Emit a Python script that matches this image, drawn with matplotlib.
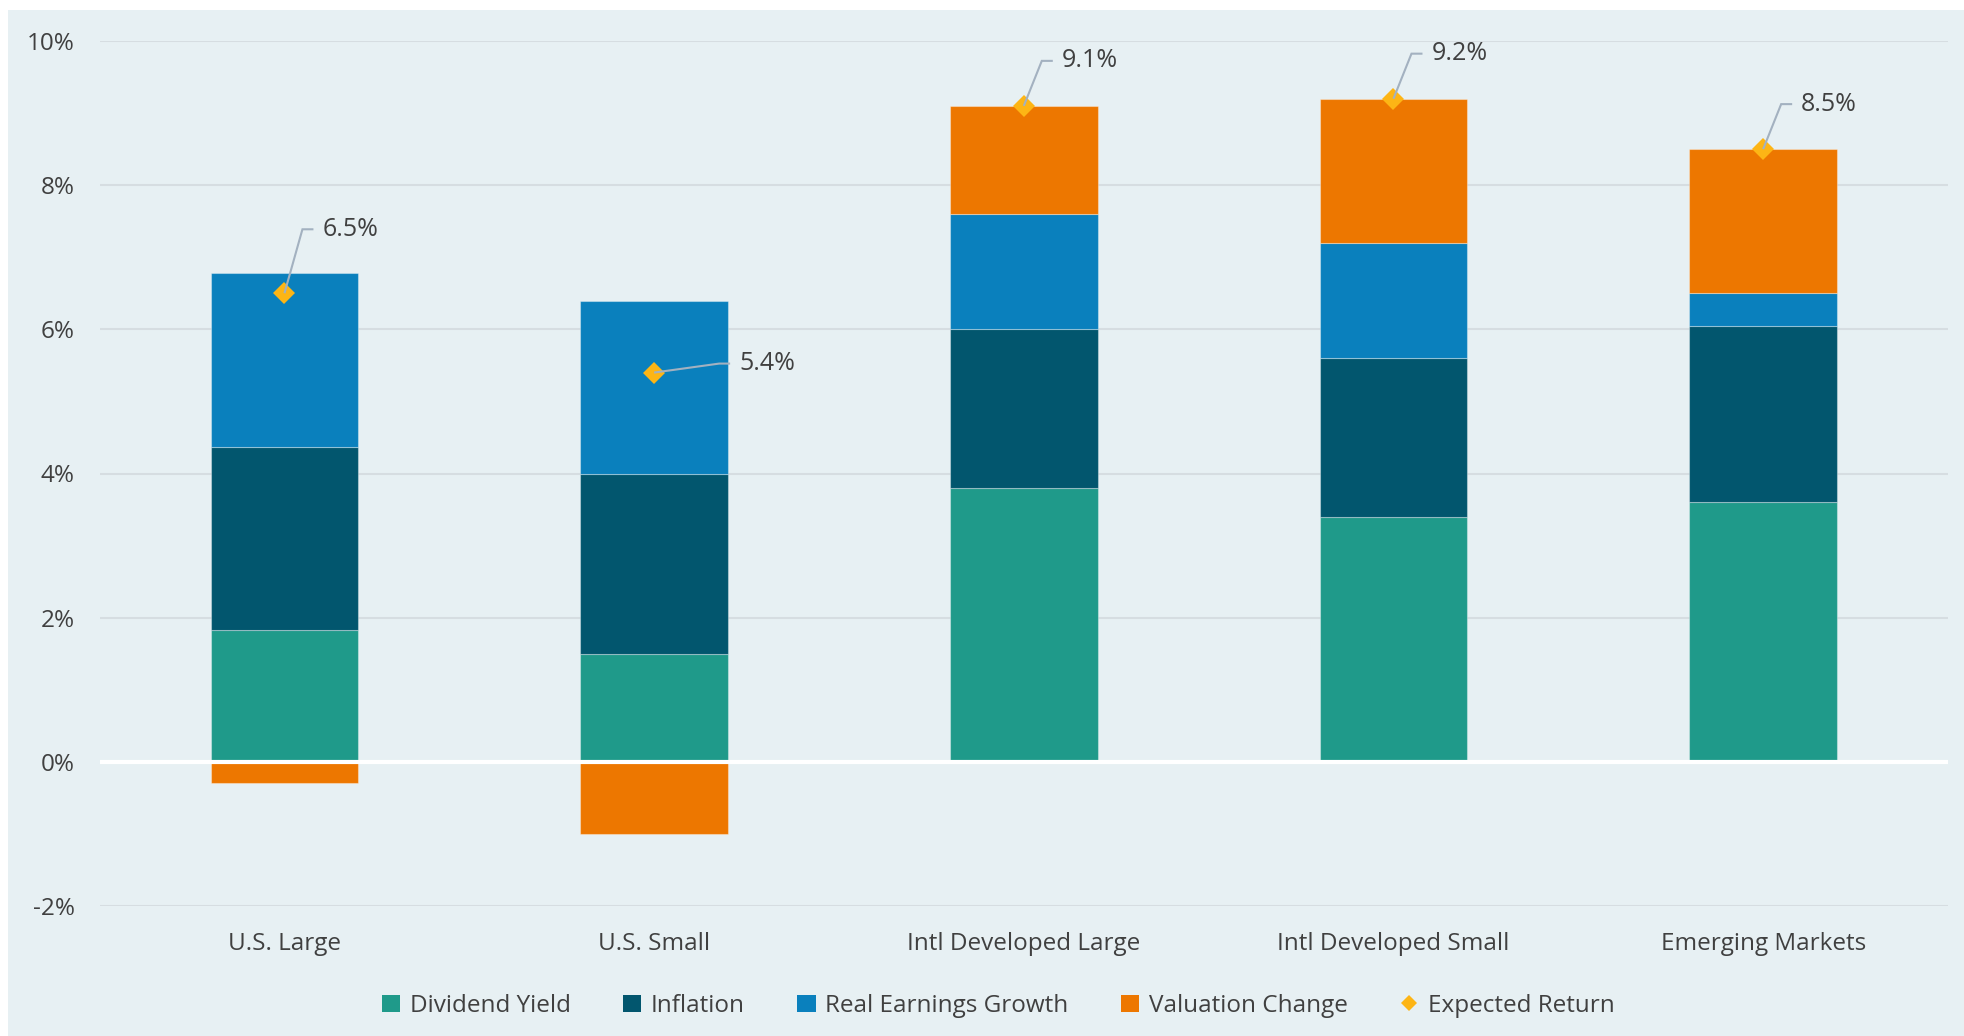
import matplotlib
matplotlib.use("Agg")
import matplotlib.pyplot as plt
from matplotlib.lines import Line2D
from matplotlib.patches import Patch
import numpy as np

plt.rcParams['font.family'] = ['Open Sans', 'DejaVu Sans']

categories = ["U.S. Large", "U.S. Small", "Intl Developed Large", "Intl Developed Small", "Emerging Markets"]
dividend_yield = [1.83, 1.50, 3.80, 3.40, 3.60]
inflation = [2.54, 2.50, 2.20, 2.20, 2.45]
real_earnings_growth = [2.41, 2.40, 1.60, 1.60, 0.45]
valuation_change = [-0.30, -1.00, 1.50, 2.00, 2.00]
expected_return = [6.5, 5.4, 9.1, 9.2, 8.5]
er_labels = ["6.5%", "5.4%", "9.1%", "9.2%", "8.5%"]
yticks = [-2, 0, 2, 4, 6, 8, 10]
ytick_labels = ["-2%", "0%", "2%", "4%", "6%", "8%", "10%"]
# label offsets (pixels): (text dx, text dy)
label_offsets = [(38, 64), (85, 9), (38, 45), (38, 45), (38, 45)]

c_div = "#1F9A8A"
c_inf = "#02566E"
c_reg = "#0A80BD"
c_val = "#ED7700"
c_er = "#FDB515"
bg = "#E7F0F3"
txt = "#404040"
lc = "#A3B1C0"

W, H = 1965, 1036
fig = plt.figure(figsize=(W / 100, H / 100), dpi=100)
fig.patch.set_facecolor("white")
panel = plt.Rectangle((8 / W, 0), 1 - 8 / W, 1 - 10 / H, transform=fig.transFigure,
                      facecolor=bg, edgecolor="none", zorder=-10)
fig.patches.append(panel)

ax = fig.add_axes([99.6 / W, 1 - 906 / H, (1948 - 99.6) / W, (906 - 41) / H])
ax.set_facecolor("none")

x = np.arange(len(categories))
bw = 0.4
edge = dict(edgecolor=(1, 1, 1, 0.35), linewidth=0.8)
dy_ = np.array(dividend_yield)
inf_ = np.array(inflation)
reg_ = np.array(real_earnings_growth)
val_ = np.array(valuation_change)

ax.bar(x, dy_, bw, color=c_div, zorder=3, **edge)
ax.bar(x, inf_, bw, bottom=dy_, color=c_inf, zorder=3, **edge)
ax.bar(x, reg_, bw, bottom=dy_ + inf_, color=c_reg, zorder=3, **edge)
pos_bottom = np.where(val_ >= 0, dy_ + inf_ + reg_, 0)
ax.bar(x, val_, bw, bottom=pos_bottom, color=c_val, zorder=3, **edge)

ax.axhline(0, color="white", lw=3, zorder=4)

ax.plot(x, expected_return, linestyle="none", marker="D", markersize=11.5,
        color=c_er, markeredgewidth=0, zorder=6)

ax.set_xlim(-0.5, 4.5)
ax.set_ylim(-2, 10)

inv = ax.transData.inverted()
for xi, yi, lab, (tdx, tdy) in zip(x, expected_return, er_labels, label_offsets):
    p0 = ax.transData.transform((xi, yi))
    pts = [p0, (p0[0] + tdx - 20, p0[1] + tdy), (p0[0] + tdx - 9, p0[1] + tdy)]
    d = inv.transform(pts)
    ax.plot(d[:, 0], d[:, 1], color=lc, lw=1.5, zorder=7, solid_capstyle="butt",
            solid_joinstyle="miter")
    ax.annotate(lab, xy=(xi, yi), xytext=(tdx, tdy), textcoords="offset pixels",
                ha="left", va="center", fontsize=18, color=txt, zorder=8)

ax.set_yticks(yticks)
ax.set_yticklabels(ytick_labels)
ax.set_xticks(x)
ax.set_xticklabels(categories)
ax.tick_params(axis="both", length=0, labelsize=17.5, labelcolor=txt)
ax.tick_params(axis="y", pad=18)
ax.tick_params(axis="x", pad=19)
for s in ax.spines.values():
    s.set_visible(False)
ax.yaxis.grid(True, color="#D6DDE1", lw=1.5, zorder=0)
ax.set_axisbelow(True)

handles = [
    Patch(facecolor=c_div, label="Dividend Yield"),
    Patch(facecolor=c_inf, label="Inflation"),
    Patch(facecolor=c_reg, label="Real Earnings Growth"),
    Patch(facecolor=c_val, label="Valuation Change"),
    Line2D([], [], linestyle="none", marker="D", markersize=8, color=c_er,
           markeredgewidth=0, label="Expected Return"),
]
leg = fig.legend(handles=handles, loc="center", bbox_to_anchor=(0.508, 1 - 1006 / H),
                 ncol=5, frameon=False, fontsize=17.5, handlelength=0.75, handleheight=0.75,
                 handletextpad=0.4, columnspacing=2.15)
for t in leg.get_texts():
    t.set_color(txt)

fig.savefig("out.png", dpi=100, facecolor=fig.get_facecolor())
